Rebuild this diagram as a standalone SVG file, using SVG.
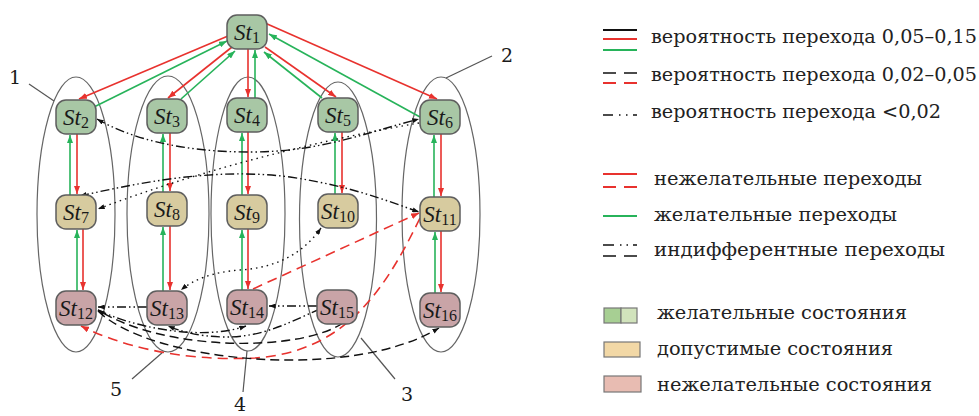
<svg xmlns="http://www.w3.org/2000/svg" width="979" height="416" viewBox="0 0 979 416">
  <defs>
    <marker id="ar" viewBox="0 0 8 6" refX="8" refY="3" markerWidth="8" markerHeight="6" markerUnits="userSpaceOnUse" orient="auto-start-reverse">
      <path d="M0,0 L8,3 L0,6 z" fill="#e8322e"/>
    </marker>
    <marker id="ag" viewBox="0 0 8 6" refX="8" refY="3" markerWidth="8" markerHeight="6" markerUnits="userSpaceOnUse" orient="auto-start-reverse">
      <path d="M0,0 L8,3 L0,6 z" fill="#27b35a"/>
    </marker>
    <marker id="ab" viewBox="0 0 8 6" refX="8" refY="3" markerWidth="7" markerHeight="5" markerUnits="userSpaceOnUse" orient="auto-start-reverse">
      <path d="M0,0 L8,3 L0,6 z" fill="#111"/>
    </marker>
  </defs>
  <style>
    .ell { fill: none; stroke: #666; stroke-width: 1.2; }
    .lead { stroke: #555; stroke-width: 1.2; }
    .num { font-family: "DejaVu Serif", "Liberation Serif", serif; font-size: 19px; fill: #1a1a1a; text-anchor: middle; }
    .node rect { stroke: #5e5e5e; stroke-width: 1.5; }
    .g rect { fill: #a8c7a5; }
    .t rect { fill: #d7cb9f; }
    .p rect { fill: #c9a4a7; }
    .lbl { font-family: "Liberation Serif", serif; font-style: italic; font-size: 23px; fill: #1a1a1a; text-anchor: middle; }
    .sub { font-style: normal; font-size: 16px; }
    .red { stroke: #e8322e; stroke-width: 1.6; fill: none; }
    .grn { stroke: #27b35a; stroke-width: 1.6; fill: none; }
    .blk { stroke: #111; stroke-width: 1.4; fill: none; }
    .dd { stroke-dasharray: 9 3 1.5 3 1.5 3; }
    .dot { stroke-dasharray: 1.5 4; }
    .dsh { stroke-dasharray: 9 5; }
    .rdsh { stroke-dasharray: 10 6; }
    .mr { marker-end: url(#ar); }
    .mg { marker-end: url(#ag); }
    .mb { marker-end: url(#ab); }
    .mbb { marker-start: url(#ab); marker-end: url(#ab); }
    .leg { font-family: "DejaVu Serif", "Liberation Serif", serif; font-size: 19px; fill: #222; }
    .lg rect { stroke: #777; stroke-width: 1.2; }
  </style>

  <!-- state groups (clusters 1..5) -->
  <g id="clusters">
    <ellipse class="ell" cx="76" cy="214.5" rx="39" ry="137.5"/>
    <ellipse class="ell" cx="168" cy="214" rx="41" ry="138"/>
    <ellipse class="ell" cx="248" cy="214" rx="37" ry="137"/>
    <ellipse class="ell" cx="338" cy="219.5" rx="38.5" ry="137.5"/>
    <ellipse class="ell" cx="441" cy="214.5" rx="39" ry="137.5"/>
    <line class="lead" x1="29" y1="84" x2="54" y2="101"/>
    <line class="lead" x1="492" y1="56" x2="446" y2="78"/>
    <line class="lead" x1="132" y1="379" x2="163" y2="352"/>
    <line class="lead" x1="243" y1="392" x2="247" y2="351"/>
    <line class="lead" x1="395" y1="379" x2="361" y2="338"/>
    <text class="num" x="15" y="84">1</text>
    <text class="num" x="507" y="62">2</text>
    <text class="num" x="407" y="401">3</text>
    <text class="num" x="240" y="411">4</text>
    <text class="num" x="116" y="396">5</text>
  </g>

  <g id="connectors">
    <!-- undesirable transitions (red) -->
    <path class="red mr" d="M228,36 L79,99"/>
    <path class="red mr" d="M232,47 L168,98"/>
    <path class="red mr" d="M248,49 L248,97"/>
    <path class="red mr" d="M265,47 L336,97"/>
    <path class="red mr" d="M265,23 L437,99"/>
    <path class="red mr" d="M77,134 L77,194"/>
    <path class="red mr" d="M83,229 L83,290"/>
    <path class="red mr" d="M170,133 L170,191"/>
    <path class="red mr" d="M170,226 L170,290"/>
    <path class="red mr" d="M248,132 L248,194"/>
    <path class="red mr" d="M248,229 L248,289"/>
    <path class="red mr" d="M342,132 L342,193"/>
    <path class="red mr" d="M441,134 L441,196"/>
    <path class="red mr" d="M441,231 L441,292"/>
    <path class="red rdsh mr" d="M253,289 L419,213"/>
    <path class="red rdsh mr" d="M420,218 C385,290 345,352 255,358 C175,362 115,343 81,326"/>

    <!-- desirable transitions (green) -->
    <path class="grn mg" d="M94,107 L227,41"/>
    <path class="grn mg" d="M181,99 L235,51"/>
    <path class="grn mg" d="M255,98 L255,50"/>
    <path class="grn mg" d="M322,98 L264,52"/>
    <path class="grn mg" d="M420,117 L269,34"/>
    <path class="grn mg" d="M70,195 L70,135"/>
    <path class="grn mg" d="M77,291 L77,230"/>
    <path class="grn mg" d="M163,192 L163,134"/>
    <path class="grn mg" d="M163,291 L163,227"/>
    <path class="grn mg" d="M242,195 L242,133"/>
    <path class="grn mg" d="M242,290 L242,230"/>
    <path class="grn mg" d="M335,194 L335,133"/>
    <path class="grn mg" d="M434,197 L434,135"/>
    <path class="grn mg" d="M435,293 L435,232"/>

    <!-- indifferent transitions (black) -->
    <path class="blk dd mbb" d="M97,119 C130,138 180,152 250,152 C320,152 365,133 419,119"/>
    <path class="blk dd mbb" d="M80,196 C150,180 220,168 290,177 C350,186 385,200 419,212"/>
    <path class="blk dot mb" d="M419,123 C320,140 200,170 98,209"/>
    <path class="blk dot mbb" d="M321,228 C300,258 270,268 240,270 C212,272 193,280 181,290"/>
    <path class="blk dd mb" d="M147,307 L98,307"/>
    <path class="blk dd mb" d="M317,306 L269,306"/>
    <path class="blk dd mb" d="M320,309 C290,322 262,338 222,337 C196,336 180,331 168,326"/>
    <path class="blk dd mb" d="M98,310 C130,326 200,342 246,326"/>
    <path class="blk dsh mb" d="M343,323 C300,352 165,352 98,310"/>
    <path class="blk dsh mb" d="M98,311 C150,362 350,382 439,328"/>
  </g>

  <g id="st1" class="node g"><rect x="227" y="15" width="40" height="34" rx="10"/><text class="lbl" x="247" y="40">St<tspan class="sub" dy="3">1</tspan></text></g>
  <g id="st2" class="node g"><rect x="56" y="100" width="40" height="34" rx="10"/><text class="lbl" x="76" y="125">St<tspan class="sub" dy="3">2</tspan></text></g>
  <g id="st3" class="node g"><rect x="147" y="99" width="40" height="34" rx="10"/><text class="lbl" x="167" y="124">St<tspan class="sub" dy="3">3</tspan></text></g>
  <g id="st4" class="node g"><rect x="227" y="98" width="40" height="34" rx="10"/><text class="lbl" x="247" y="123">St<tspan class="sub" dy="3">4</tspan></text></g>
  <g id="st5" class="node g"><rect x="318" y="98" width="40" height="34" rx="10"/><text class="lbl" x="338" y="123">St<tspan class="sub" dy="3">5</tspan></text></g>
  <g id="st6" class="node g"><rect x="420" y="100" width="40" height="34" rx="10"/><text class="lbl" x="440" y="125">St<tspan class="sub" dy="3">6</tspan></text></g>
  <g id="st7" class="node t"><rect x="56" y="195" width="40" height="34" rx="10"/><text class="lbl" x="76" y="220">St<tspan class="sub" dy="3">7</tspan></text></g>
  <g id="st8" class="node t"><rect x="147" y="192" width="40" height="34" rx="10"/><text class="lbl" x="167" y="217">St<tspan class="sub" dy="3">8</tspan></text></g>
  <g id="st9" class="node t"><rect x="227" y="195" width="40" height="34" rx="10"/><text class="lbl" x="247" y="220">St<tspan class="sub" dy="3">9</tspan></text></g>
  <g id="st10" class="node t"><rect x="318" y="194" width="40" height="34" rx="10"/><text class="lbl" x="338" y="219">St<tspan class="sub" dy="3">10</tspan></text></g>
  <g id="st11" class="node t"><rect x="420" y="197" width="40" height="34" rx="10"/><text class="lbl" x="440" y="222">St<tspan class="sub" dy="3">11</tspan></text></g>
  <g id="st12" class="node p"><rect x="56" y="291" width="40" height="34" rx="10"/><text class="lbl" x="76" y="316">St<tspan class="sub" dy="3">12</tspan></text></g>
  <g id="st13" class="node p"><rect x="147" y="291" width="40" height="34" rx="10"/><text class="lbl" x="167" y="316">St<tspan class="sub" dy="3">13</tspan></text></g>
  <g id="st14" class="node p"><rect x="227" y="290" width="40" height="34" rx="10"/><text class="lbl" x="247" y="315">St<tspan class="sub" dy="3">14</tspan></text></g>
  <g id="st15" class="node p"><rect x="317" y="290" width="40" height="34" rx="10"/><text class="lbl" x="337" y="315">St<tspan class="sub" dy="3">15</tspan></text></g>
  <g id="st16" class="node p"><rect x="420" y="293" width="40" height="34" rx="10"/><text class="lbl" x="440" y="318">St<tspan class="sub" dy="3">16</tspan></text></g>

  <g id="legend">
    <!-- probability classes -->
    <line x1="603" y1="30" x2="637" y2="30" stroke="#111" stroke-width="1.8"/>
    <line x1="603" y1="39" x2="637" y2="39" stroke="#e8322e" stroke-width="1.8"/>
    <line x1="603" y1="50" x2="637" y2="50" stroke="#27b35a" stroke-width="2"/>
    <text class="leg" x="651" y="43" textLength="326" lengthAdjust="spacingAndGlyphs">вероятность перехода 0,05–0,15</text>

    <line x1="603" y1="73" x2="637" y2="73" stroke="#111" stroke-width="1.6" stroke-dasharray="13 8"/>
    <line x1="603" y1="83" x2="637" y2="83" stroke="#e8322e" stroke-width="1.8" stroke-dasharray="13 8"/>
    <text class="leg" x="651" y="81" textLength="326" lengthAdjust="spacingAndGlyphs">вероятность перехода 0,02–0,05</text>

    <line x1="603" y1="115" x2="637" y2="115" stroke="#111" stroke-width="1.6" stroke-dasharray="10 6 1.5 5.5 1.5 5.5"/>
    <text class="leg" x="651" y="118" textLength="290" lengthAdjust="spacingAndGlyphs">вероятность перехода &lt;0,02</text>

    <!-- transition kinds -->
    <line x1="603" y1="174" x2="637" y2="174" stroke="#e8322e" stroke-width="1.8"/>
    <line x1="603" y1="187" x2="637" y2="187" stroke="#e8322e" stroke-width="1.8" stroke-dasharray="13 8"/>
    <text class="leg" x="654" y="185" textLength="268" lengthAdjust="spacingAndGlyphs">нежелательные переходы</text>

    <line x1="603" y1="216" x2="637" y2="216" stroke="#27b35a" stroke-width="2"/>
    <text class="leg" x="654" y="221" textLength="243" lengthAdjust="spacingAndGlyphs">желательные переходы</text>

    <line x1="603" y1="245" x2="637" y2="245" stroke="#111" stroke-width="1.6" stroke-dasharray="11 6 1.5 5 1.5 5"/>
    <line x1="603" y1="256" x2="637" y2="256" stroke="#111" stroke-width="1.6" stroke-dasharray="13 8"/>
    <text class="leg" x="654" y="256" textLength="291" lengthAdjust="spacingAndGlyphs">индифферентные переходы</text>

    <!-- state kinds -->
    <g class="lg">
      <rect x="604" y="308" width="17" height="15" fill="#a7cf93"/>
      <rect x="621" y="308" width="16" height="15" fill="#d1e3bc"/>
      <rect x="604" y="342" width="36" height="15" fill="#f2d8a6"/>
      <rect x="604" y="376" width="37" height="16" fill="#e8bcb2"/>
    </g>
    <text class="leg" x="657" y="319" textLength="250" lengthAdjust="spacingAndGlyphs">желательные состояния</text>
    <text class="leg" x="657" y="355" textLength="236" lengthAdjust="spacingAndGlyphs">допустимые состояния</text>
    <text class="leg" x="657" y="391" textLength="275" lengthAdjust="spacingAndGlyphs">нежелательные состояния</text>
  </g>
</svg>
